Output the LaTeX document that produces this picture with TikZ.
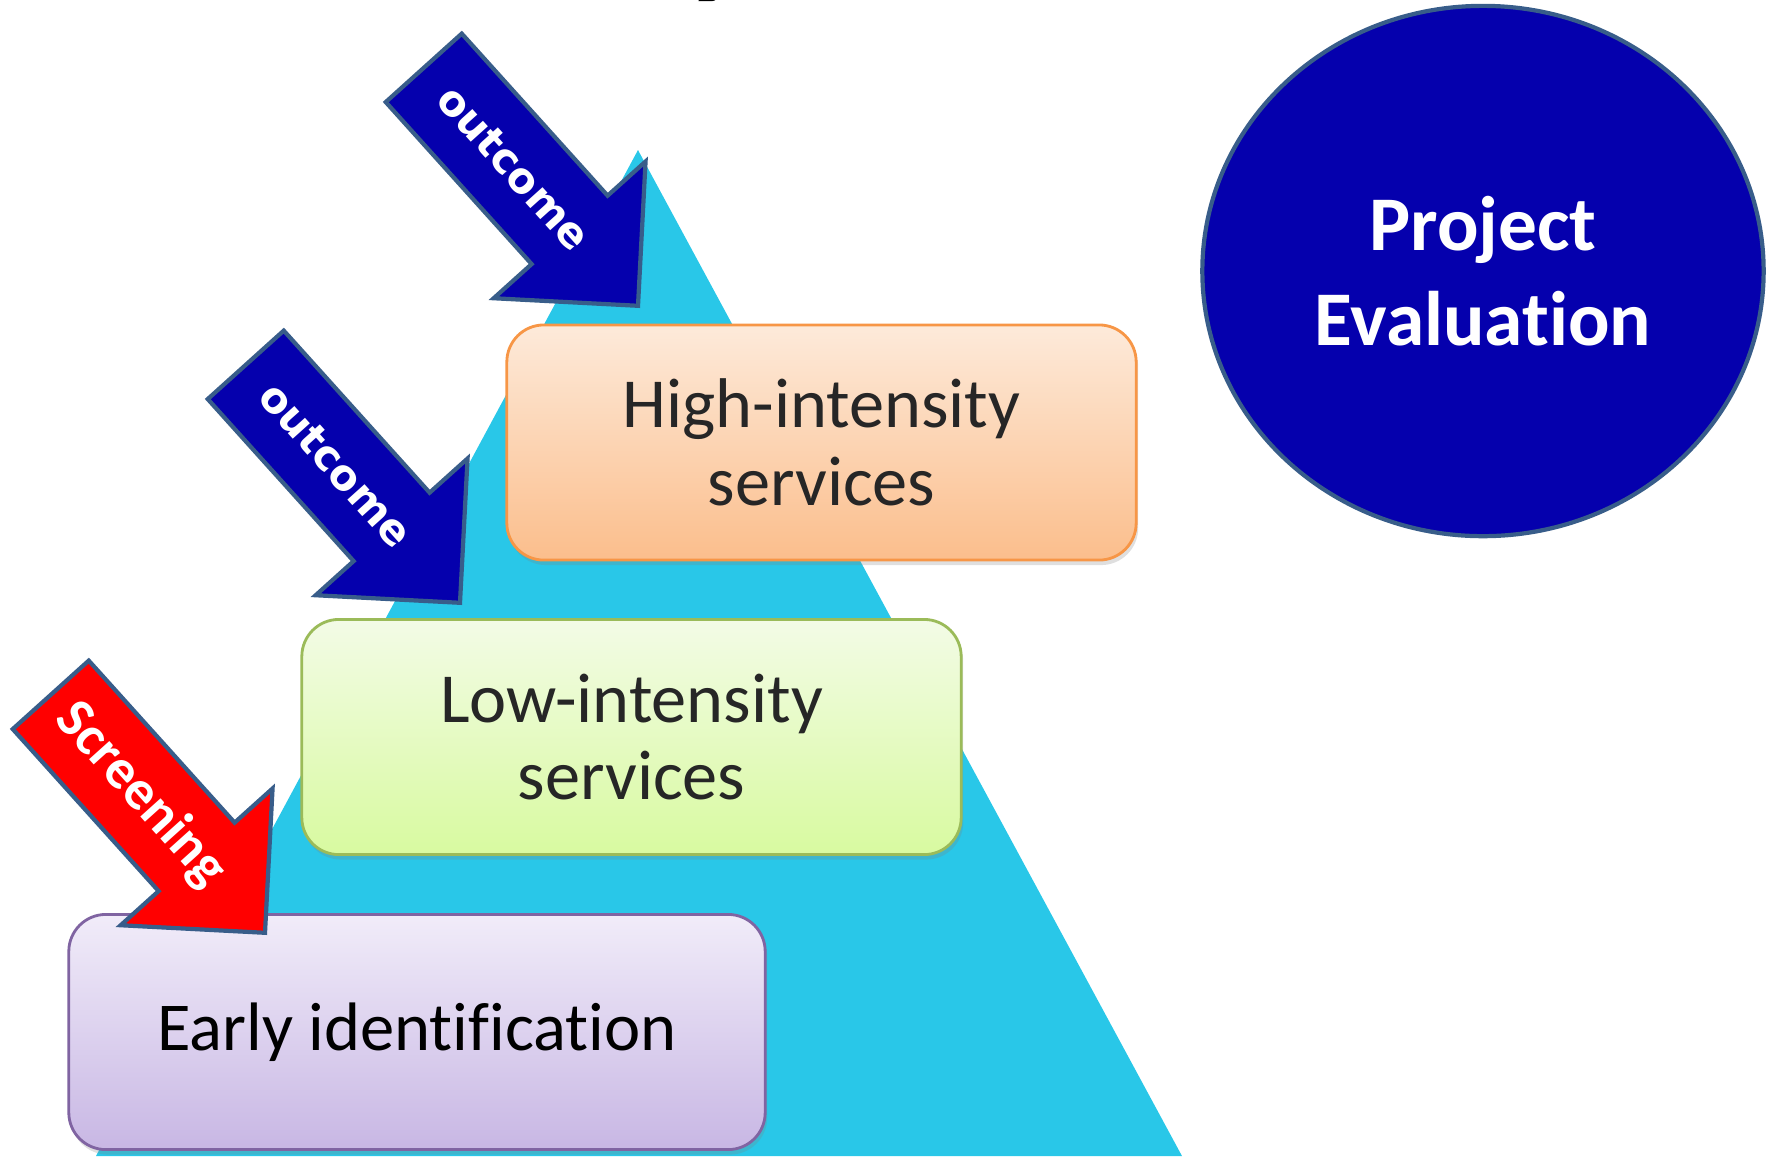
\documentclass[tikz,border=0pt]{standalone}
\usepackage{fontspec}
\setmainfont{Carlito}[Ligatures=NoCommon]
\newfontfamily\arrowfont{DejaVu Sans}
\usetikzlibrary{shapes.arrows,shapes.geometric,shadows,calc,positioning}

\definecolor{pyramid}{RGB}{41,199,232}
\definecolor{navy}{RGB}{5,0,173}
\definecolor{rim}{RGB}{56,93,138}
\definecolor{hiline}{RGB}{247,150,70}
\definecolor{hitop}{RGB}{253,234,218}
\definecolor{hibot}{RGB}{251,190,140}
\definecolor{loline}{RGB}{155,187,89}
\definecolor{lotop}{RGB}{243,251,230}
\definecolor{lobot}{RGB}{216,250,160}
\definecolor{eiline}{RGB}{128,100,162}
\definecolor{eitop}{RGB}{241,236,249}
\definecolor{eibot}{RGB}{200,183,228}
\definecolor{boxtext}{RGB}{38,38,38}

\begin{document}
\begin{tikzpicture}[x=0.01cm,y=-0.01cm]
\tikzstyle{tier}=[shape=rectangle,rounded corners=0.37cm,draw,line width=0.8pt,align=center,inner sep=0pt,minimum height=2.35cm,text=boxtext,font=\fontsize{20}{22}\selectfont,drop shadow={shadow xshift=0.02cm,shadow yshift=-0.05cm,opacity=0.25}]
\tikzstyle{pointer}=[single arrow,draw=rim,line width=1.2pt,minimum height=3.2cm,inner xsep=0pt,inner ysep=0.49cm,single arrow head extend=0.51cm,rotate=-48,anchor=tip]
\tikzstyle{pointer text}=[text=white,rotate=-48,inner sep=0pt]

\useasboundingbox (0,0) rectangle (1771,1156);

% title, cut off at the top
\node (title) [anchor=base west,font=\bfseries\fontsize{40}{40}\selectfont] at (673,-21) {y};

% pyramid
\coordinate (apex) at (638,150);
\coordinate (baseR) at (1182,1156);
\coordinate (baseL) at (96,1156);
\fill[pyramid] (apex) -- (baseR) -- (baseL) -- cycle;

% tiers
\node[tier,draw=hiline,top color=hitop,bottom color=hibot,minimum width=6.29cm] (high) at (821.5,442.5) {High-intensity\\services};
\node[tier,draw=loline,top color=lotop,bottom color=lobot,minimum width=6.59cm] (low) at (631.5,737) {Low-intensity\\services};
\node[tier,draw=eiline,top color=eitop,bottom color=eibot,minimum width=6.96cm,text=black,font=\fontsize{19.5}{22}\selectfont] (early) at (417,1032) {Early identification};

% evaluation
\node[ellipse,draw=rim,line width=1.2pt,fill=navy,minimum width=5.61cm,minimum height=5.3cm,inner sep=0pt,align=center,text=white,font=\bfseries\fontsize{22}{27}\selectfont] (eval) at (1483,271) {Project\\Evaluation};

% arrows
\node[pointer,fill=navy] (out1) at (640,308) {};
\node[pointer,fill=navy] (out2) at (462,605) {};
\node[pointer,fill=red] (scr) at (267,935) {};
\node[pointer text,font=\arrowfont\bfseries\fontsize{12}{12}\selectfont] at ($(out1.tail)!0.42!(out1.tip)$) {outcome};
\node[pointer text,font=\arrowfont\bfseries\fontsize{12}{12}\selectfont] at ($(out2.tail)!0.42!(out2.tip)$) {outcome};
\node[pointer text,font=\bfseries\fontsize{16}{16}\selectfont] at ($(scr.tail)!0.42!(scr.tip)$) {Screening};
\end{tikzpicture}
\end{document}
